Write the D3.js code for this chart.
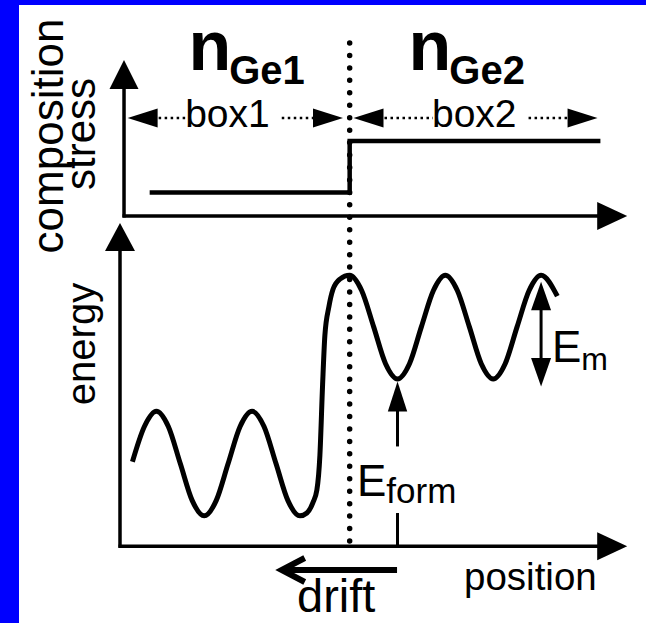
<!DOCTYPE html>
<html>
<head>
<meta charset="utf-8">
<script src="https://cdn.jsdelivr.net/npm/d3@7"></script>
<style>
  html, body { margin: 0; padding: 0; background: #fff; }
  svg { display: block; }
  text { font-family: "Liberation Sans", Arial, Helvetica, sans-serif; fill: #000; }
</style>
</head>
<body>
<svg id="chart" width="646" height="623"></svg>
<script>
// ---- energy profile along position (lattice sites, interface at 0) ----
const leftWaveX  = [-2.27, -2.145, -2.02, -1.895, -1.77, -1.645, -1.52, -1.395, -1.27, -1.145, -1.02, -0.895, -0.77, -0.645, -0.52];
const leftWaveE  = [0.89, 1.26, 1.42, 1.26, 0.87, 0.48, 0.32, 0.48, 0.87, 1.26, 1.42, 1.26, 0.87, 0.48, 0.32];
const riseX      = [-0.447, -0.384, -0.343, -0.311, -0.283, -0.259, -0.217, -0.175, -0.102];
const riseE      = [0.35, 0.46, 0.59, 0.96, 1.70, 2.22, 2.52, 2.70, 2.81];
const rightWaveX = [0, 0.125, 0.25, 0.375, 0.5, 0.625, 0.75, 0.875, 1.0, 1.125, 1.25, 1.375, 1.5, 1.625, 1.75, 1.875, 2.0, 2.17];
const rightWaveE = [2.85, 2.69, 2.31, 1.92, 1.76, 1.92, 2.31, 2.69, 2.85, 2.69, 2.31, 1.92, 1.76, 1.92, 2.31, 2.69, 2.85, 2.63];

// ---- composition stress step ----
const stressX = [-2.09, 0, 2.62];
const stressY = [0.15, 0.48, 0.48];

// ---- boxes and region labels ----
const boxNames  = ["box1", "box2"];
const boxStart  = [-2.32, 0.04];
const boxEnd    = [-0.07, 2.59];
const boxLabelX = [-1.277, 1.302];
const regionSub = ["Ge1", "Ge2"];
const regionX   = [-1.685, 0.615];

// ---- annotated quantities ----
const interfaceX = 0;
const eformX = 0.5;      // site of the first minimum in box2
const emX = 2.0;         // barrier annotation site
const minE = 1.76;       // well bottom in box2
const maxE = 2.85;       // barrier top in box2

const svg = d3.select("#chart");
const W = 646, H = 623;

const x  = d3.scaleLinear().domain([-2.4, 2.9]).range([120, 627.2]);
const yE = d3.scaleLinear().domain([0, 3.4]).range([546.3, 223]);
const yS = d3.scaleLinear().domain([0, 1]).range([216, 60]);

const ink = "#000";

function head(g, tx, ty, dx, dy, len, hw) {
  // filled triangular arrow head, tip at (tx,ty), pointing along (dx,dy)
  const bx = tx - dx * len, by = ty - dy * len;
  const px = -dy * hw, py = dx * hw;
  g.append("path")
    .attr("d", `M${tx},${ty}L${bx + px},${by + py}L${bx - px},${by - py}Z`)
    .attr("fill", ink);
}

// frame
svg.append("rect").attr("x", 0).attr("y", 0).attr("width", W).attr("height", H).attr("fill", "#fff");
svg.append("rect").attr("x", 0).attr("y", 0).attr("width", 19).attr("height", H).attr("fill", "#0000ff");
svg.append("rect").attr("x", 0).attr("y", 0).attr("width", W).attr("height", 5).attr("fill", "#0000ff");

const g = svg.append("g");

// ---------- upper panel: composition / stress ----------
const topX0 = x(-2.358);
g.append("line").attr("x1", topX0).attr("x2", topX0).attr("y1", yS(0) + 1.5).attr("y2", yS(1) + 26)
  .attr("stroke", ink).attr("stroke-width", 3.5);
head(g, topX0, yS(1), 0, -1, 29, 14.5);
g.append("line").attr("x1", topX0 - 1.5).attr("x2", x(2.9) - 26).attr("y1", yS(0)).attr("y2", yS(0))
  .attr("stroke", ink).attr("stroke-width", 3.5);
head(g, x(2.9), yS(0), 1, 0, 30, 14);

const stressPts = stressX.map((v, i) => [v, stressY[i]]);
g.append("path")
  .attr("d", d3.line().x(d => x(d[0])).y(d => yS(d[1])).curve(d3.curveStepAfter)(stressPts))
  .attr("fill", "none").attr("stroke", ink).attr("stroke-width", 4.5);

// region labels n_Ge1 / n_Ge2
regionSub.forEach((s, i) => {
  const t = g.append("text").attr("x", x(regionX[i])).attr("y", 70).attr("font-weight", "bold");
  t.append("tspan").attr("font-size", 70).text("n");
  t.append("tspan").attr("font-size", 40).attr("dx", -2).attr("dy", 14).text(s);
});

// box extents with dotted arrows
const boxY = 118;
boxNames.forEach((name, i) => {
  const lab = g.append("text").attr("x", x(boxLabelX[i])).attr("y", 127)
    .attr("text-anchor", "middle").attr("font-size", 39).text(name);
  const bb = lab.node().getBBox();
  const a = x(boxStart[i]), b = x(boxEnd[i]);
  head(g, a, boxY, -1, 0, 30, 9.5);
  head(g, b, boxY, 1, 0, 30, 9.5);
  g.append("line").attr("x1", a + 31).attr("x2", bb.x + 1).attr("y1", boxY).attr("y2", boxY)
    .attr("stroke", ink).attr("stroke-width", 2.5).attr("stroke-dasharray", "2.5 3.5");
  g.append("line").attr("x1", bb.x + bb.width + 12).attr("x2", b - 30).attr("y1", boxY).attr("y2", boxY)
    .attr("stroke", ink).attr("stroke-width", 2.5).attr("stroke-dasharray", "2.5 3.5");
});

// axis titles, upper panel
g.append("text").attr("transform", `translate(63,136) rotate(-90)`)
  .attr("text-anchor", "middle").attr("font-size", 44).text("composition");
g.append("text").attr("transform", `translate(95,134) rotate(-90)`)
  .attr("text-anchor", "middle").attr("font-size", 42).text("stress");

// ---------- lower panel: energy ----------
g.append("line").attr("x1", x(-2.4)).attr("x2", x(-2.4)).attr("y1", yE(0) + 1.5).attr("y2", yE(3.4) + 26)
  .attr("stroke", ink).attr("stroke-width", 3.5);
head(g, x(-2.4), yE(3.4), 0, -1, 28, 15);
g.append("line").attr("x1", x(-2.4) - 1.5).attr("x2", x(2.9) - 26).attr("y1", yE(0)).attr("y2", yE(0))
  .attr("stroke", ink).attr("stroke-width", 3.5);
head(g, x(2.9), yE(0), 1, 0, 30, 14);

g.append("text").attr("transform", `translate(95,344) rotate(-90)`)
  .attr("text-anchor", "middle").attr("font-size", 40).text("energy");
g.append("text").attr("x", 464).attr("y", 590).attr("font-size", 38.5).text("position");

// interface (dotted)
g.append("line").attr("x1", x(interfaceX)).attr("x2", x(interfaceX)).attr("y1", 43).attr("y2", 541)
  .attr("stroke", ink).attr("stroke-width", 5.5).attr("stroke-linecap", "round")
  .attr("stroke-dasharray", "0 12.45");

// energy curve
const profX = leftWaveX.concat(riseX, rightWaveX);
const profE = leftWaveE.concat(riseE, rightWaveE);
const prof = profX.map((v, i) => [v, profE[i]]);
g.append("path")
  .attr("d", d3.line().x(d => x(d[0])).y(d => yE(d[1])).curve(d3.curveMonotoneX)(prof))
  .attr("fill", "none").attr("stroke", ink).attr("stroke-width", 5)
  .attr("stroke-linejoin", "round");

// E_form: from the baseline up to the box2 well bottom
const fx = x(eformX);
const fTip = yE(minE) + 2.5;
head(g, fx, fTip, 0, -1, 30, 9.7);
g.append("line").attr("x1", fx).attr("x2", fx).attr("y1", fTip + 29).attr("y2", yE(1.05))
  .attr("stroke", ink).attr("stroke-width", 3);
g.append("line").attr("x1", fx).attr("x2", fx).attr("y1", yE(0.35)).attr("y2", yE(0))
  .attr("stroke", ink).attr("stroke-width", 3);
const ef = g.append("text").attr("x", 357).attr("y", 496);
ef.append("tspan").attr("font-size", 44).text("E");
ef.append("tspan").attr("font-size", 35).attr("dy", 7).text("form");

// E_m: barrier height in box2
const mx = x(emX);
const mTop = yE(maxE) + 6.5, mBot = yE(minE) + 7.5;
head(g, mx, mTop, 0, -1, 28.5, 10);
head(g, mx, mBot, 0, 1, 28.5, 10);
g.append("line").attr("x1", mx).attr("x2", mx).attr("y1", mTop + 27).attr("y2", mBot - 27)
  .attr("stroke", ink).attr("stroke-width", 3);
const em = g.append("text").attr("x", 552).attr("y", 361.7);
em.append("tspan").attr("font-size", 44).text("E");
em.append("tspan").attr("font-size", 32).attr("dy", 8).text("m");

// drift arrow (pointing toward box1)
const dTip = x(-0.71), dEnd = x(0.495), dy = 570;
g.append("path")
  .attr("d", `M${dEnd},${dy}L${dTip + 2},${dy}M${dTip + 23},${dy - 12}L${dTip},${dy}L${dTip + 23},${dy + 12}`)
  .attr("fill", "none").attr("stroke", ink).attr("stroke-width", 6)
  .attr("stroke-linejoin", "miter").attr("stroke-linecap", "butt");
g.append("text").attr("x", 297).attr("y", 612).attr("font-size", 47).text("drift");
</script>
</body>
</html>
